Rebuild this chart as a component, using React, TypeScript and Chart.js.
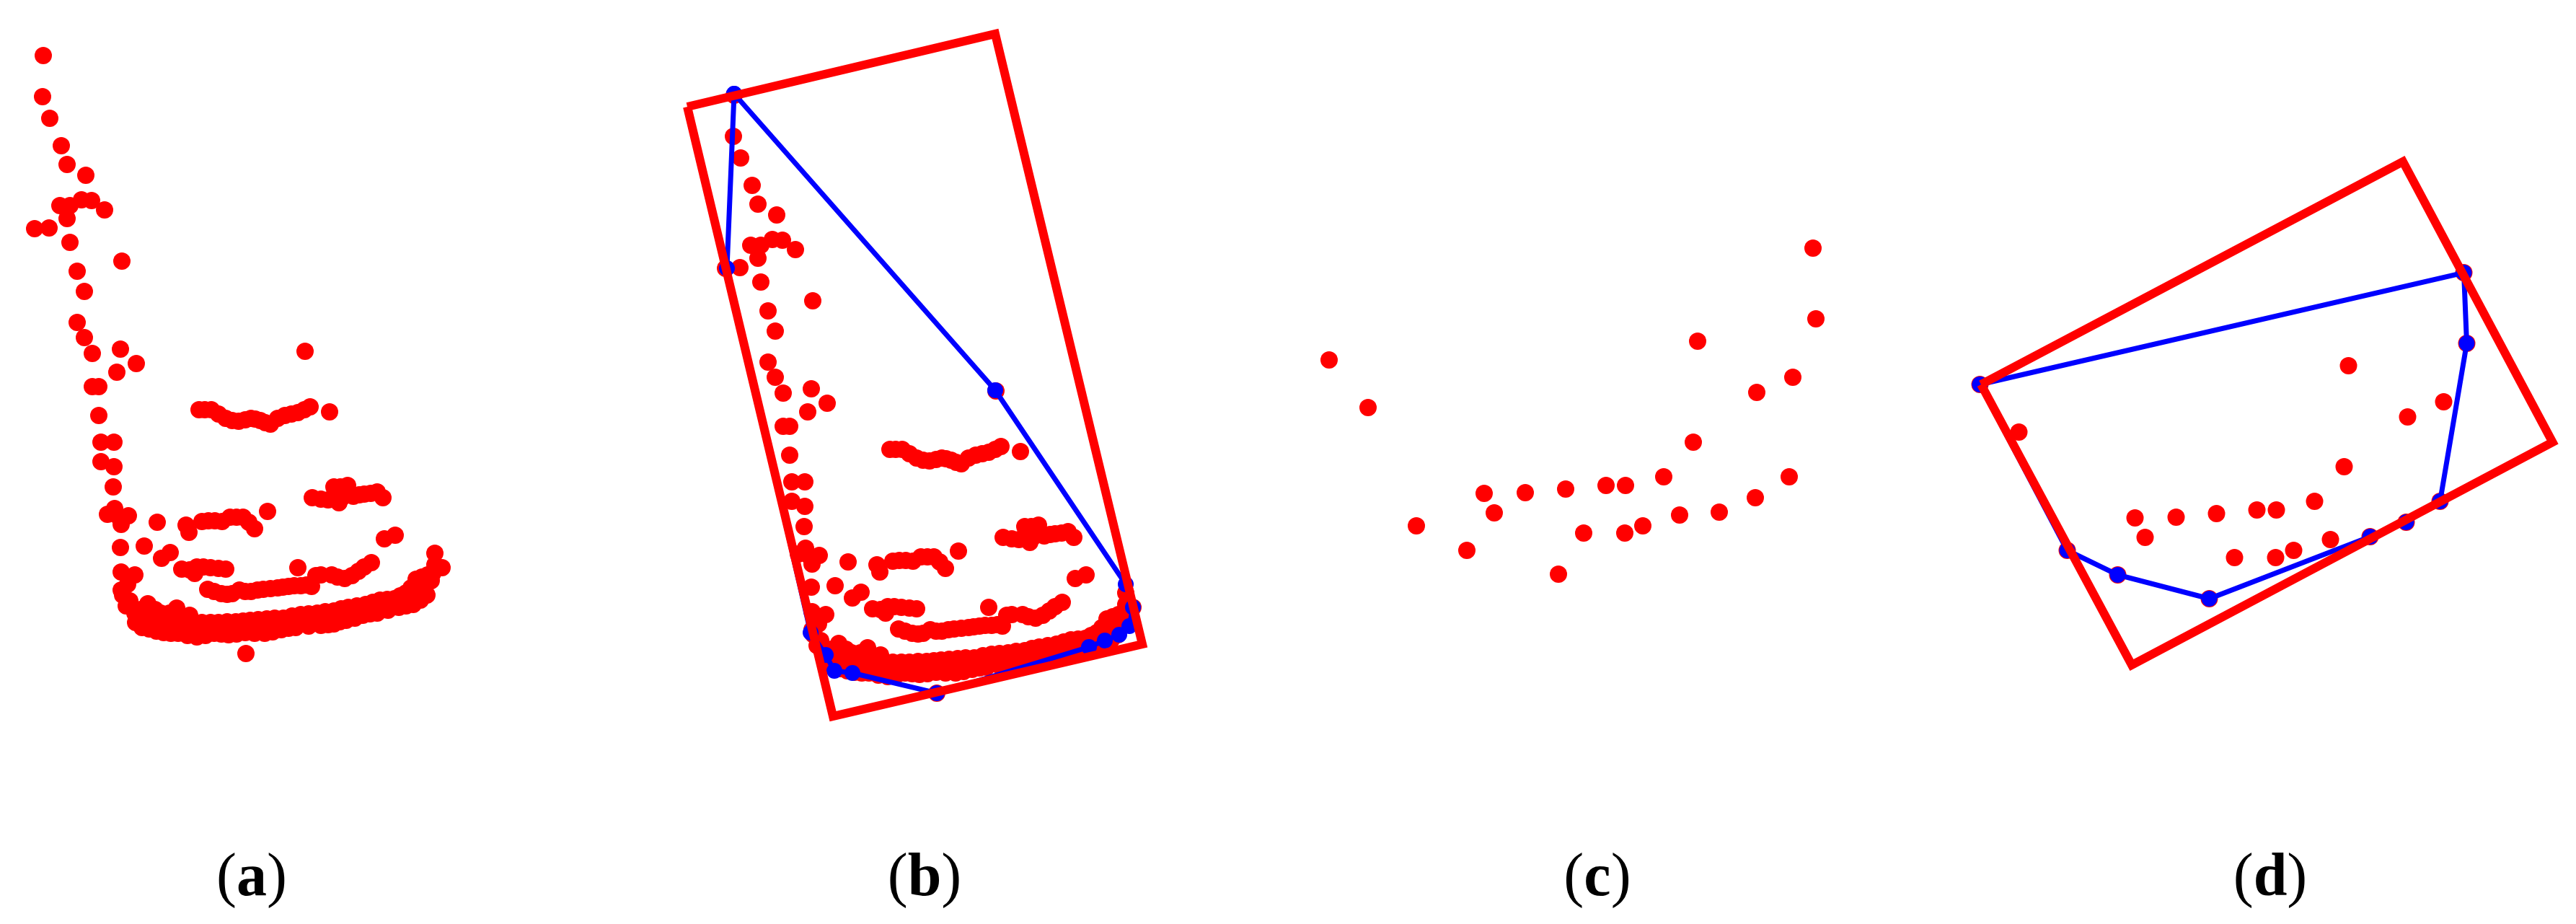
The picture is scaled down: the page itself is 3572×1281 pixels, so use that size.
import React, { useEffect, useRef } from "react";
import { Chart, registerables } from "chart.js";

Chart.register(...registerables);

type P = { x: number; y: number };
const pts = (list: number[][]): P[] => list.map(([x, y]) => ({ x, y }));

// Shape one: the long curved cloud, shared by panels (a) and (b)
const cloudTail = [[60,77],[59,134],[69,164],[85,202],[93,228],[119,243],[83,285],[97,285],[113,277],[127,278],[145,291],[93,303],[48,317],[68,316],[97,336],[169,362],[107,376],[117,404],[107,447],[117,468],[167,484],[189,504],[128,490],[162,516],[137,536],[128,536],[137,576],[140,613],[158,613],[140,640],[158,647],[157,675]];
const cloudArcTop = [[423,487],[276,568],[284,568],[293,568],[303,574],[313,580],[322,583],[331,584],[340,582],[348,580],[354,581],[361,583],[368,586],[375,588],[385,580],[395,576],[404,574],[413,572],[422,568],[430,564],[457,571]];
const cloudArcMid = [[433,690],[445,692],[455,693],[463,690],[463,675],[472,675],[482,673],[470,697],[477,688],[490,688],[498,686],[505,685],[514,684],[523,682],[531,690],[149,713],[159,705],[178,715],[168,727],[163,715],[218,724],[258,728],[262,738],[280,723],[289,722],[298,722],[308,723],[319,717],[328,717],[337,717],[345,724],[353,733],[371,709]];
const cloudArcLow = [[167,759],[200,757],[224,774],[236,766],[533,747],[548,742],[252,789],[263,790],[270,795],[273,786],[282,786],[292,787],[303,788],[313,789],[413,787],[515,780],[505,786],[497,792],[488,798],[478,802],[468,800],[460,797],[445,797],[438,798],[432,813],[288,817],[297,820],[307,823],[315,824],[322,823],[332,818],[340,820],[348,820],[357,818],[365,817],[375,816],[385,815],[392,814],[400,813],[408,812],[417,812],[425,811]];
const cloudBandUpper = [[280,863],[292,863],[303,863],[315,862],[327,862],[337,861],[347,860],[358,859],[370,858],[381,857],[393,857],[405,854],[417,852],[428,851],[440,850],[451,848],[463,847],[473,844],[483,842],[495,840],[507,838],[517,835],[527,832],[537,831],[547,830],[555,826],[563,822],[570,815],[577,803],[585,800],[593,797],[590,813],[603,767],[603,783],[613,787],[592,825]];
const cloudBandLower = [[207,872],[217,875],[227,877],[237,878],[247,878],[260,881],[273,883],[285,881],[297,878],[307,879],[317,880],[328,879],[340,877],[353,878],[367,878],[378,876],[390,873],[400,871],[410,870],[428,868],[445,867],[455,866],[463,865],[471,862],[480,860],[492,857],[503,853],[513,851],[523,850],[538,846],[553,842],[563,840],[573,838],[583,832],[341,906]];
const cloudBandMid = [[220,862],[250,866],[275,870],[300,870],[325,870],[350,869],[375,867],[400,864],[425,860],[450,857],[475,852],[500,846],[525,841],[550,835],[555,833],[570,828],[585,820],[598,805],[600,795]];
const cloudBandLeft = [[168,818],[168,793],[187,797],[177,810],[170,825],[175,840],[180,833],[195,845],[197,857],[197,870],[205,837],[215,845],[187,850],[235,850],[245,843],[223,850],[255,857],[263,853],[188,863],[210,863],[237,863],[263,867],[290,872]];
const cloud = pts([...cloudTail, ...cloudArcTop, ...cloudArcMid, ...cloudArcLow, ...cloudBandUpper, ...cloudBandLower, ...cloudBandMid, ...cloudBandLeft]);

const hullB = pts([[60,75],[422,486],[603,755],[613,787],[608,813],[594,825],[574,833],[552,842],[341,906],[224,878],[199,875],[187,853],[166,822],[50,317],[60,75]]);
const rectB = pts([[-5,93],[422,-8],[626,838],[197,938],[-5,93]]);

// Shape two: the sparse cloud, shared by panels (c) and (d)
const sparse = pts([[2514,344],[2518,442],[2354,473],[1843,499],[1897,565],[2486,523],[2436,544],[2348,613],[2307,661],[2254,673],[2227,673],[2171,678],[2115,683],[2058,684],[2072,711],[1964,729],[2034,763],[2161,796],[2196,739],[2253,739],[2278,729],[2329,714],[2384,710],[2434,690],[2481,661]]);
const hullD = pts([[1843,499],[2514,344],[2518,442],[2481,661],[2434,690],[2384,710],[2161,796],[2034,763],[1964,729],[1843,499]]);
const rectD = pts([[1844.5,499],[2429.5,190],[2637,579],[2053.5,888],[1844.5,499]]);

const captions = ["a", "b", "c", "d"];

type PanelProps = {
  left: number; width: number; xMin: number; yMin: number;
  points: P[]; hull?: P[]; rect?: P[];
};

const HEIGHT = 1100;

function Panel({ left, width, xMin, yMin, points, hull, rect }: PanelProps) {
  const ref = useRef<HTMLCanvasElement>(null);
  useEffect(() => {
    const datasets: any[] = [];
    if (rect) datasets.push({ data: rect, showLine: true, borderColor: "#ff0000", borderWidth: 12, borderJoinStyle: "miter", pointRadius: 0, clip: false, tension: 0 });
    if (hull) datasets.push({ data: hull, showLine: true, borderColor: "#0000ff", borderWidth: 7, backgroundColor: "#0000ff", pointRadius: 11, pointBorderWidth: 0, clip: false, tension: 0 });
    datasets.push({ data: points, showLine: false, backgroundColor: "#ff0000", pointRadius: 12, pointBorderWidth: 0, clip: false });
    const chart = new Chart(ref.current!, {
      type: "scatter",
      data: { datasets },
      options: {
        animation: false,
        responsive: false,
        devicePixelRatio: 1,
        layout: { autoPadding: false, padding: 0 },
        plugins: { legend: { display: false }, tooltip: { enabled: false }, title: { display: false } },
        scales: {
          x: { type: "linear", display: false, min: xMin, max: xMin + width },
          y: { type: "linear", display: false, reverse: true, min: yMin, max: yMin + HEIGHT },
        },
      },
    });
    return () => chart.destroy();
  }, []);
  return <canvas ref={ref} width={width} height={HEIGHT} style={{ position: "absolute", left, top: 0, width, height: HEIGHT, display: "block" }} />;
}

const captionCenters = [349, 1282, 2215, 3148];

export default function App() {
  return (
    <div style={{ position: "absolute", left: 0, top: 0, width: 3572, height: 1281, background: "#fff", overflow: "hidden" }}>
      <Panel left={0} width={800} xMin={0} yMin={0} points={cloud} />
      <Panel left={900} width={800} xMin={-58} yMin={-55} points={cloud} hull={hullB} rect={rectB} />
      <Panel left={1800} width={800} xMin={1800} yMin={0} points={sparse} />
      <Panel left={2700} width={872} xMin={1797.5} yMin={-34} points={sparse} hull={hullD} rect={rectD} />
      {captions.map((c, i) => (
        <div key={c} style={{ position: "absolute", left: captionCenters[i] - 100, width: 200, top: 1163, textAlign: "center", fontFamily: "'Liberation Serif'", fontSize: 84, lineHeight: "100px", color: "#000" }}>
          (<b>{c}</b>)
        </div>
      ))}
    </div>
  );
}
